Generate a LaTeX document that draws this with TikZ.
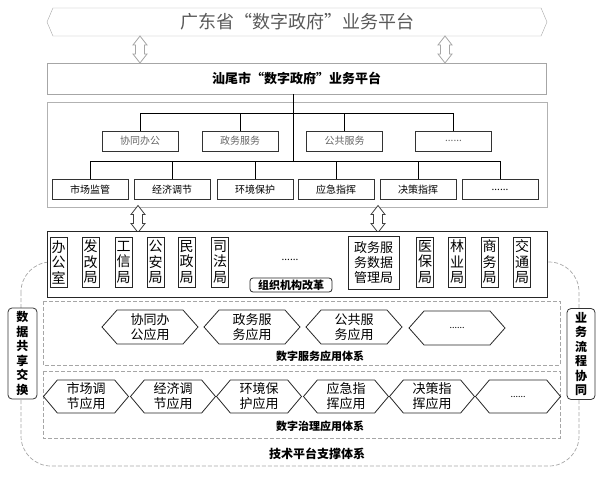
\documentclass[tikz,border=0pt]{standalone}
\usepackage{fontspec}
\setmainfont{Noto Sans CJK SC}
\usetikzlibrary{shapes.symbols}

\begin{document}
\begin{tikzpicture}[x=1pt,y=-1pt,
    banner/.style={draw=gray!70, signal, signal to=west and east, signal pointer angle=134, minimum width=500pt, minimum height=28pt, inner sep=0pt, text=black!65, font=\fontsize{18}{20}\selectfont},
    plat/.style={draw=gray!70, line width=0.8pt, minimum width=499pt, minimum height=31pt, font=\bfseries\fontsize{13}{15}\selectfont},
    dblarr/.pic={\draw[draw=#1, fill=white, line width=0.8pt] (0,-13.5) -- (7,-4.5) -- (4.5,-4.5) -- (4.5,4.5) -- (7,4.5) -- (0,13.5) -- (-7,4.5) -- (-4.5,4.5) -- (-4.5,-4.5) -- (-7,-4.5) -- cycle;},
    tbox/.style={draw=black!80, line width=0.8pt, fill=white, minimum width=76pt, minimum height=20pt, inner sep=0pt, font=\fontsize{10}{12}\selectfont},
    dept/.style={draw=black!85, line width=0.8pt, minimum width=17pt, minimum height=50pt, inner sep=0pt, text width=14pt, align=center, font=\fontsize{14}{15.5}\selectfont},
    hexa/.style={draw=black!85, line width=0.8pt, fill=white, signal, signal to=west and east, signal pointer angle=#1, inner sep=0pt, align=center, font=\fontsize{13}{15}\selectfont},
    dashbox/.style={draw=gray!70, dashed, dash pattern=on 4pt off 2pt, line width=0.7pt},
    sidelbl/.style={draw=black!80, line width=0.8pt, fill=white, rounded corners=4pt, minimum width=29pt, minimum height=91pt, inner sep=0pt, text width=14pt, align=center, font=\bfseries\fontsize{12}{14.5}\selectfont},
    lbl/.style={font=\bfseries\fontsize{11}{13}\selectfont}]
  \useasboundingbox (0,0) rectangle (609,478);

  % outer support frame
  \draw[dashbox, rounded corners=30pt] (21,262) rectangle (579,466);
  \node[font=\bfseries\fontsize{12}{14}\selectfont] (tech) at (317,454) {技术平台支撑体系};

  % provincial and city platforms
  \node[banner] (gd) at (297,22) {广东省“数字政府”业务平台};
  \node[plat] (sw) at (296.5,78.5) {汕尾市“数字政府”业务平台};
  \pic (a1) at (140,49.5) {dblarr=gray!70};
  \pic (a2) at (445,49.5) {dblarr=gray!70};

  % business tree
  \node[draw=gray!60, line width=0.8pt, minimum width=500pt, minimum height=105pt] (tree) at (297,154.5) {};
  \coordinate (bus1) at (293,113);
  \coordinate (bus2) at (293,161);
  \node[tbox, text=black!60] (p1) at (140,141) {协同办公};
  \node[tbox, text=black!60] (p2) at (240,141) {政务服务};
  \node[tbox, text=black!60] (p3) at (344.5,141) {公共服务};
  \node[tbox, text=black!60] (p4) at (453.5,141) {......};
  \node[tbox] (q1) at (90,189.5) {市场监管};
  \node[tbox] (q2) at (172,189.5) {经济调节};
  \node[tbox] (q3) at (255,189.5) {环境保护};
  \node[tbox] (q4) at (336,189.5) {应急指挥};
  \node[tbox] (q5) at (418,189.5) {决策指挥};
  \node[tbox] (q6) at (500,189.5) {......};
  \draw[line width=0.8pt] (sw.south -| bus2) -- (bus2);
  \draw[line width=0.8pt] (p1.north |- bus1) -- (p4.north |- bus1);
  \draw[line width=0.8pt] (q1.north |- bus2) -- (q6.north |- bus2);
  \foreach \n in {p1,p2,p3,p4} \draw[line width=0.8pt] (\n.north) -- (\n.north |- bus1);
  \foreach \n in {q1,q2,q3,q4,q5,q6} \draw[line width=0.8pt] (\n.north) -- (\n.north |- bus2);

  \pic (a3) at (138,219) {dblarr=black!75};
  \pic (a4) at (378,219) {dblarr=black!75};

  % departments
  \node[draw=black!85, fill=white, line width=0.9pt, minimum width=500pt, minimum height=66pt] (org) at (297,264) {};
  \node[dept] (d1) at (58.5,262) {办\\公\\室};
  \node[dept] (d2) at (90.5,262) {发\\改\\局};
  \node[dept] (d3) at (123.5,262) {工\\信\\局};
  \node[dept] (d4) at (155.5,262) {公\\安\\局};
  \node[dept] (d5) at (186.5,262) {民\\政\\局};
  \node[dept] (d6) at (220,262) {司\\法\\局};
  \node (dots) at (290,260) {......};
  \node[draw=black!85, line width=0.8pt, rounded corners=3pt, minimum width=82pt, minimum height=14pt, inner sep=0pt, lbl] (reform) at (291,285) {组织机构改革};
  \node[draw=black!85, line width=0.8pt, minimum width=51pt, minimum height=53pt, inner sep=0pt, align=center, font=\fontsize{13}{15}\selectfont] (sjj) at (373.5,262.5) {政务服\\务数据\\管理局};
  \node[dept] (d7) at (425,262) {医\\保\\局};
  \node[dept] (d8) at (457,262) {林\\业\\局};
  \node[dept] (d9) at (489.5,262) {商\\务\\局};
  \node[dept] (d10) at (522,262) {交\\通\\局};

  % digital service applications
  \draw[dashbox] (43,301) rectangle (560,365);
  \node[hexa=97, minimum width=96pt, minimum height=34pt] (s1) at (150,327) {协同办\\公应用};
  \node[hexa=97, minimum width=96pt, minimum height=34pt] (s2) at (252,327) {政务服\\务应用};
  \node[hexa=97, minimum width=96pt, minimum height=34pt] (s3) at (354,327) {公共服\\务应用};
  \node[hexa=97, minimum width=96pt, minimum height=34pt, font=\fontsize{9}{11}\selectfont] (s4) at (457,328) {......};
  \node[lbl] (svc) at (320,356) {数字服务应用体系};

  % digital governance applications
  \draw[dashbox] (43,371) rectangle (560,438);
  \node[hexa=100, minimum width=85pt, minimum height=33pt] (g1) at (86,396.5) {市场调\\节应用};
  \node[hexa=100, minimum width=85pt, minimum height=33pt] (g2) at (173,396.5) {经济调\\节应用};
  \node[hexa=100, minimum width=85pt, minimum height=33pt] (g3) at (259,396.5) {环境保\\护应用};
  \node[hexa=100, minimum width=85pt, minimum height=33pt] (g4) at (346,396.5) {应急指\\挥应用};
  \node[hexa=100, minimum width=85pt, minimum height=33pt] (g5) at (432,396.5) {决策指\\挥应用};
  \node[hexa=100, minimum width=85pt, minimum height=33pt, font=\fontsize{9}{11}\selectfont] (g6) at (518,396.5) {......};
  \node[lbl] (gov) at (320,426) {数字治理应用体系};

  % side labels
  \node[sidelbl] (share) at (22.5,353.5) {数\\据\\共\\享\\交\\换};
  \node[sidelbl, minimum width=28pt] (flow) at (581,354) {业\\务\\流\\程\\协\\同};
\end{tikzpicture}
\end{document}
